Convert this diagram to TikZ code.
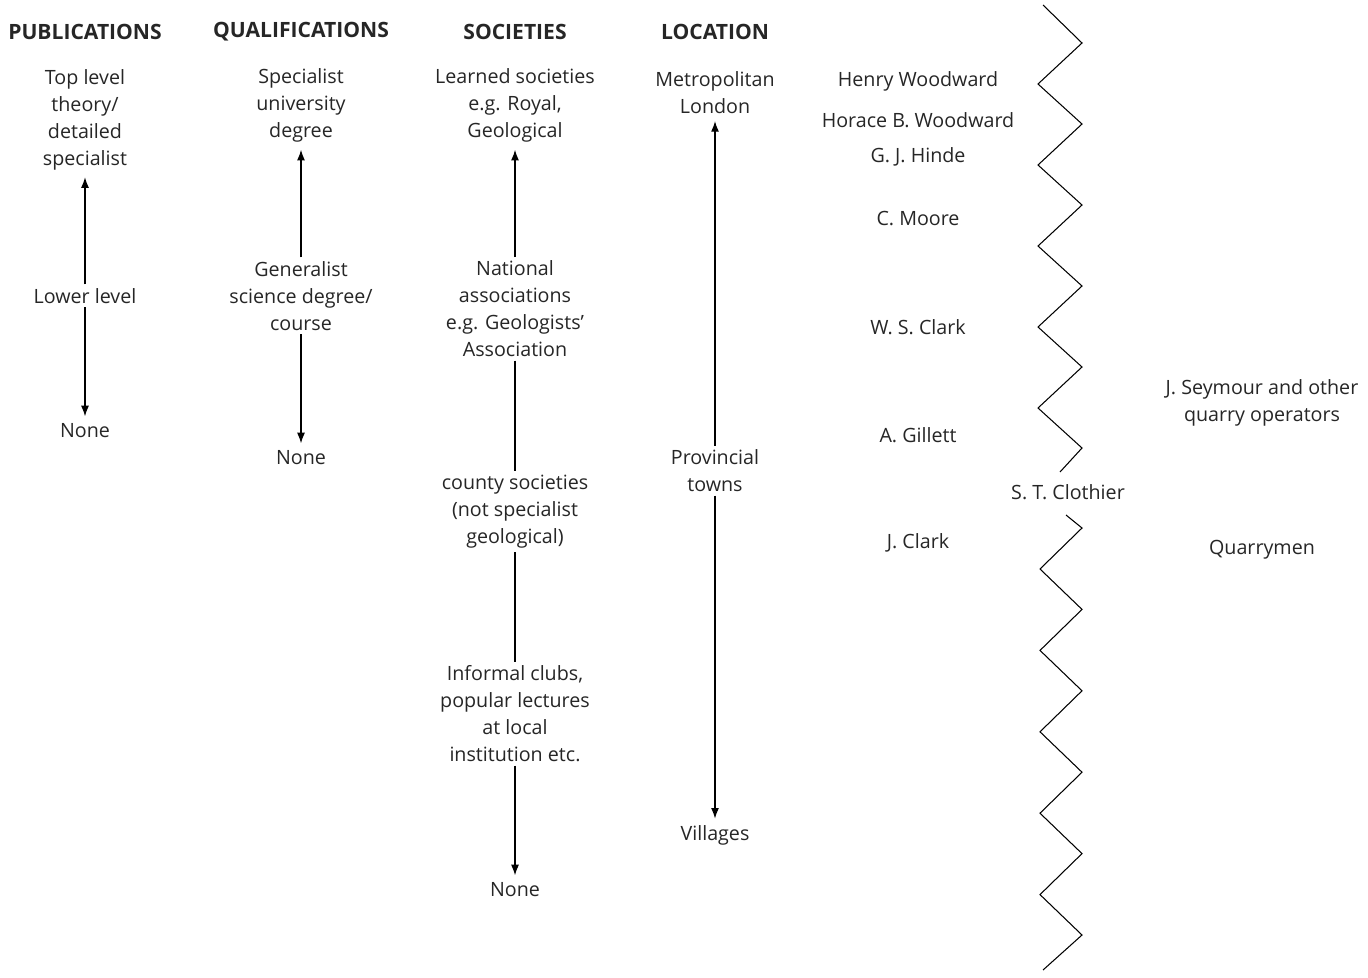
\documentclass[tikz,border=0pt]{standalone}
\usepackage{fontspec}
\setmainfont{Open Sans}
\usetikzlibrary{arrows.meta}

\begin{document}
\begin{tikzpicture}[x=0.02cm, y=-0.02cm,
  every node/.style={font=\fontsize{11.2}{15.3}\selectfont, align=center, text=black!85, inner sep=2pt, yshift=-1pt},
  head/.style={font=\fontsize{12}{13}\selectfont\bfseries},
  tip/.style={-{Latex[length=6pt,width=4.5pt]}, semithick, shorten >=2pt},
  link/.style={semithick}]
  \useasboundingbox (0,0) rectangle (1368,977);

  % Headings
  \node[head] (hpub) at (85,30) {PUBLICATIONS};
  \node[head] (hqual) at (301,30) {QUALIFICATIONS};
  \node[head] (hsoc) at (515,30) {SOCIETIES};
  \node[head] (hloc) at (715,30) {LOCATION};

  % Publications
  \node (pubtop) at (85,118) {Top level\\theory/\\detailed\\specialist};
  \node (publow) at (85,294) {Lower level};
  \node (pubnone) at (85,429) {None};
  \draw[tip] (publow) -- (pubtop);
  \draw[tip] (publow) -- (pubnone);

  % Qualifications
  \node (qualtop) at (301,104) {Specialist\\university\\degree};
  \node (qualgen) at (301,294) {Generalist\\science degree/\\course};
  \node (qualnone) at (301,456) {None};
  \draw[tip] (qualgen) -- (qualtop);
  \draw[tip] (qualgen) -- (qualnone);

  % Societies
  \node (soclearned) at (515,104) {Learned societies\\e.g. Royal,\\Geological};
  \node (socnat) at (515,307) {National\\associations\\e.g. Geologists'\\Association};
  \node (soccounty) at (515,510) {county societies\\(not specialist\\geological)};
  \node (socinf) at (515,712) {Informal clubs,\\popular lectures\\at local\\institution etc.};
  \node (socnone) at (515,888) {None};
  \draw[tip] (socnat) -- (soclearned);
  \draw[link] (socnat) -- (soccounty);
  \draw[link] (soccounty) -- (socinf);
  \draw[tip] (socinf) -- (socnone);

  % Location
  \node (locmetro) at (715,91) {Metropolitan\\London};
  \node (locprov) at (715,469) {Provincial\\towns};
  \node (locvill) at (715,834) {Villages};
  \draw[tip] (locprov) -- (locmetro);
  \draw[tip] (locprov) -- (locvill);

  % People
  \node (hwood) at (918,80) {Henry Woodward};
  \node (hbwood) at (918,118) {Horace B. Woodward};
  \node (hinde) at (918,155) {G. J. Hinde};
  \node (moore) at (918,217) {C. Moore};
  \node (wsclark) at (918,325) {W. S. Clark};
  \node (gillett) at (918,433) {A. Gillett};
  \node (jclark) at (918,541) {J. Clark};
  \node (clothier) at (1068,490) {S. T. Clothier};
  \node (seymour) at (1262,401) {J. Seymour and other\\quarry operators};
  \node (quarry) at (1262,548) {Quarrymen};

  % Zigzag divide
  \draw[link, line join=miter] (1043,5)
    foreach \k in {0,...,4} { -- (1082,43+81*\k) -- (1038,84+81*\k) }
    -- (1082,448) -- (1060,472);
  \draw[link, line join=miter] (1066,515)
    foreach \k in {0,...,4} { -- (1082,528+81.4*\k) -- (1040,569+81.4*\k) }
    -- (1082,935) -- (1043,970);
\end{tikzpicture}
\end{document}
